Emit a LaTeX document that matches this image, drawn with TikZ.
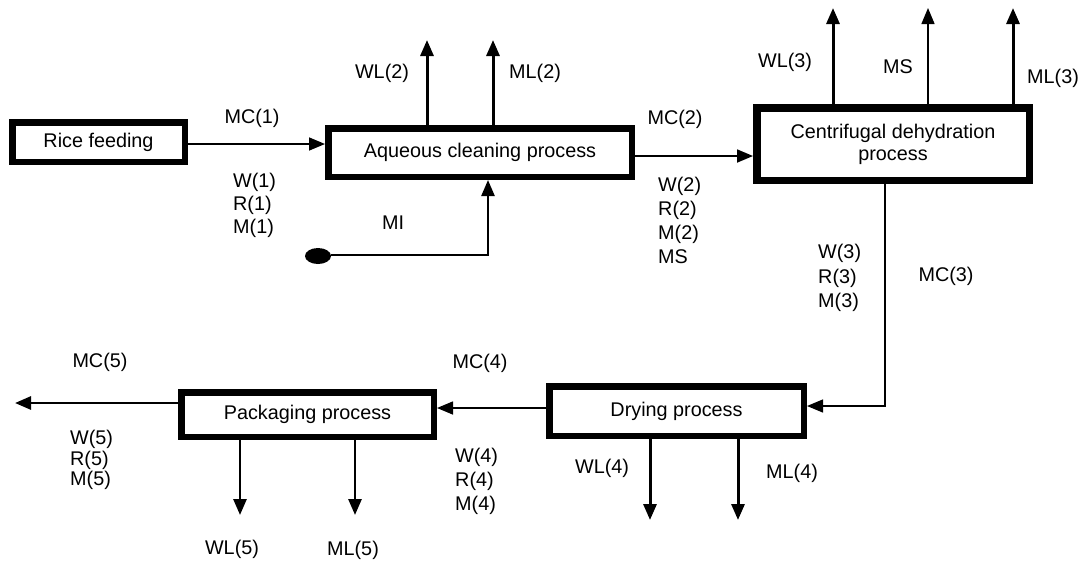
\documentclass[tikz,border=0pt]{standalone}
\usepackage{fontspec}
\setmainfont{Liberation Sans}
\usetikzlibrary{arrows.meta,shapes.geometric}
\tikzset{
  txt/.style={font=\fontsize{19.8}{22}\selectfont, inner sep=0pt},
  procbox/.style={txt, draw, line width=6.5pt, outer sep=3.25pt, align=center},
  lbl/.style={txt, anchor=center},
  stack/.style={txt, align=left, anchor=north west},
  flow/.style={-{Triangle[length=16pt,width=13pt]}, line width=#1},
  flow/.default=1.5pt
}
\begin{document}
\begin{tikzpicture}[x=1pt,y=-1pt]
\useasboundingbox (0,0) rectangle (1089,560);

% process boxes
\node[procbox, minimum width=172.5pt, minimum height=39.5pt] (rice) at (98.5,142) {Rice feeding};
\node[procbox, minimum width=303.5pt, minimum height=48.5pt] (aq) at (480,152.5) {Aqueous cleaning process};
\node[procbox, line width=7.5pt, outer sep=3.75pt, minimum width=272.5pt, minimum height=72.5pt] (cf) at (893,144) {Centrifugal dehydration\\process};
\node[procbox, minimum width=254.5pt, minimum height=49.5pt] (dry) at (676.5,411) {Drying process};
\node[procbox, minimum width=252.5pt, minimum height=44.5pt] (pk) at (307.5,414.5) {Packaging process};

% MI source dot
\node[ellipse, fill=black, minimum width=26pt, minimum height=16pt, inner sep=0pt] (dot) at (318,256) {};

% free ends / bends
\coordinate (wl2) at (427,40);
\coordinate (ml2) at (493,40);
\coordinate (mi) at (488,255);
\coordinate (wl3) at (833,8);
\coordinate (ms) at (928,8);
\coordinate (ml3) at (1013,8);
\coordinate (bend) at (885,406);
\coordinate (p4) at (500,408);
\coordinate (wl4) at (650,520);
\coordinate (ml4) at (738,520);
\coordinate (wl5) at (240,515);
\coordinate (ml5) at (355,515);
\coordinate (out) at (15,403);
\coordinate (p1) at (250,144);
\coordinate (p2) at (700,156);

% connectors
\draw[flow=1.6pt] (rice.east |- p1) -- (aq.west |- p1);
\draw[flow=3pt] (aq.north -| wl2) -- (wl2);
\draw[flow=3pt] (aq.north -| ml2) -- (ml2);
\draw[flow=2.4pt] (dot.east |- mi) -- (mi) -- (aq.south -| mi);
\draw[flow=1.8pt] (aq.east |- p2) -- (cf.west |- p2);
\draw[flow=3pt] (cf.north -| wl3) -- (wl3);
\draw[flow=1.4pt] (cf.north -| ms) -- (ms);
\draw[flow=3pt] (cf.north -| ml3) -- (ml3);
\draw[flow=1.3pt] (cf.south -| bend) -- (bend) -- (dry.east |- bend);
\draw[flow=3pt] (dry.south -| wl4) -- (wl4);
\draw[flow=3pt] (dry.south -| ml4) -- (ml4);
\draw[flow=1.6pt] (dry.west |- p4) -- (pk.east |- p4);
\draw[flow=2.8pt] (pk.south -| wl5) -- (wl5);
\draw[flow=2.8pt] (pk.south -| ml5) -- (ml5);
\draw[flow=2.8pt] (pk.west |- out) -- (out);

% labels
\node[lbl] (lmc1) at (252,118) {MC(1)};
\node[stack, font=\fontsize{19.8}{23}\selectfont] (ls1) at (233,173) {W(1)\\R(1)\\M(1)};
\node[lbl] (lwl2) at (382,73) {WL(2)};
\node[lbl] (lml2) at (535,73) {ML(2)};
\node[lbl] (lmi) at (393,223) {MI};
\node[lbl] (lmc2) at (675,119) {MC(2)};
\node[stack, font=\fontsize{19.8}{24}\selectfont] (ls2) at (658,177) {W(2)\\R(2)\\M(2)\\MS};
\node[lbl] (lwl3) at (785,62) {WL(3)};
\node[lbl] (lms) at (898,67) {MS};
\node[lbl] (lml3) at (1053,78) {ML(3)};
\node[stack, font=\fontsize{19.8}{24.5}\selectfont] (ls3) at (818,244) {W(3)\\R(3)\\M(3)};
\node[lbl] (lmc3) at (946,276) {MC(3)};
\node[lbl] (lmc4) at (480,363) {MC(4)};
\node[stack, font=\fontsize{19.8}{24}\selectfont] (ls4) at (455,448) {W(4)\\R(4)\\M(4)};
\node[lbl] (lwl4) at (602,468) {WL(4)};
\node[lbl] (lml4) at (792,473) {ML(4)};
\node[lbl] (lmc5) at (100,362) {MC(5)};
\node[stack, font=\fontsize{19.8}{20.5}\selectfont] (ls5) at (70,430) {W(5)\\R(5)\\M(5)};
\node[lbl] (lwl5) at (232,549) {WL(5)};
\node[lbl] (lml5) at (353,550) {ML(5)};
\end{tikzpicture}
\end{document}
